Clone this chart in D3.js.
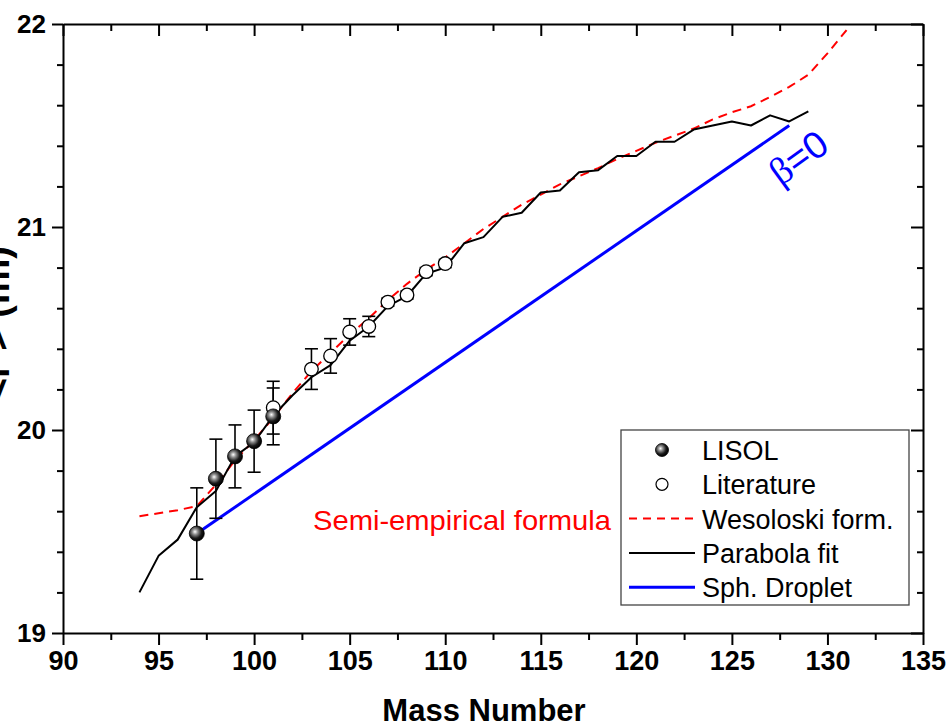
<!DOCTYPE html>
<html>
<head>
<meta charset="utf-8">
<script src="https://cdn.jsdelivr.net/npm/d3@7/dist/d3.min.js"></script>
<style>
  body { margin: 0; background: #fff; }
  svg { display: block; }
  text { font-family: "Liberation Sans", Arial, sans-serif; }
</style>
</head>
<body>
<svg id="chart" width="949" height="728"></svg>
<script>
// ---------- DATA ----------
const xTicks = [90, 95, 100, 105, 110, 115, 120, 125, 130, 135];
const yTicks = [19, 20, 21, 22];

const lisolA   = [97, 98, 99, 100, 101];
const lisolR   = [19.49, 19.76, 19.87, 19.945, 20.067];
const lisolErr = [0.225, 0.195, 0.155, 0.153, 0.14];

const litA   = [101, 103, 104, 105, 106, 107, 108, 109, 110];
const litR   = [20.11, 20.30, 20.365, 20.483, 20.51, 20.63, 20.665, 20.78, 20.82];
const litErr = [0.13, 0.10, 0.085, 0.065, 0.05, 0.02, 0.02, 0.02, 0.02];

const parabA = [94,95,96,97,98,99,100,101,102,103,104,105,106,107,108,109,110,111,112,113,114,115,116,117,118,119,120,121,122,123,124,125,126,127,128,129];
const parabR = [19.20,19.38,19.46,19.62,19.70,19.87,19.94,20.07,20.17,20.26,20.32,20.44,20.51,20.61,20.66,20.77,20.80,20.92,20.95,21.05,21.07,21.17,21.18,21.27,21.28,21.35,21.35,21.42,21.42,21.48,21.50,21.52,21.50,21.55,21.52,21.57];

const wesA = [94,95,96,97,98,99,100,101,102,103,104,105,106,107,108,109,110,111,112,113,114,115,116,117,118,119,120,121,122,123,124,125,126,127,128,129,130,131];
const wesR = [19.575,19.59,19.605,19.625,19.73,19.85,19.95,20.06,20.18,20.29,20.38,20.47,20.55,20.64,20.72,20.79,20.85,20.92,20.99,21.05,21.11,21.16,21.21,21.25,21.29,21.335,21.375,21.415,21.45,21.485,21.53,21.565,21.595,21.64,21.69,21.75,21.855,21.97];

const dropA = [97, 128];
const dropR = [19.49, 21.50];

const legendLabels = ["LISOL", "Literature", "Wesoloski form.", "Parabola fit", "Sph. Droplet"];

// ---------- SETUP ----------
const svg = d3.select("#chart");
const L = 63, R = 923, T = 24, B = 633;
const x = d3.scaleLinear().domain([90, 135]).range([L, R]);
const y = d3.scaleLinear().domain([19, 22]).range([B, T]);

const defs = svg.append("defs");
const grad = defs.append("radialGradient").attr("id", "sphere")
  .attr("cx", "40%").attr("cy", "40%").attr("r", "60%").attr("fx", "38%").attr("fy", "38%");
grad.append("stop").attr("offset", "0%").attr("stop-color", "#ffffff");
grad.append("stop").attr("offset", "30%").attr("stop-color", "#909090");
grad.append("stop").attr("offset", "70%").attr("stop-color", "#1a1a1a");
grad.append("stop").attr("offset", "100%").attr("stop-color", "#000000");

const clip = defs.append("clipPath").attr("id", "plotclip");
clip.append("rect").attr("x", L).attr("y", T).attr("width", R - L).attr("height", B - T);

// ---------- AXES ----------
const xMinor = d3.range(92.5, 135, 5);
const yMinor = d3.range(19, 22.001, 0.2).filter(v => Math.abs(v - Math.round(v)) > 1e-6);

function styleAxis(g) {
  g.select(".domain").attr("stroke", "#000").attr("stroke-width", 2);
  g.selectAll(".tick line").attr("stroke", "#000").attr("stroke-width", 2);
}
function minorStyle(g) {
  g.select(".domain").remove();
  g.selectAll(".tick line").attr("stroke", "#000").attr("stroke-width", 2);
}

// bottom
const gB = svg.append("g").attr("transform", `translate(0,${B})`)
  .call(d3.axisBottom(x).tickValues(xTicks).tickSize(12).tickSizeOuter(0).tickPadding(6).tickFormat(d3.format("d")));
styleAxis(gB);
gB.selectAll(".tick text").attr("font-size", 27).attr("font-weight", "bold").attr("fill", "#000")
  .attr("font-family", "'Liberation Sans', Arial, sans-serif");
svg.append("g").attr("transform", `translate(0,${B})`)
  .call(d3.axisBottom(x).tickValues(xMinor).tickSize(7).tickSizeOuter(0).tickFormat(""))
  .call(minorStyle);

// top
const gT = svg.append("g").attr("transform", `translate(0,${T})`)
  .call(d3.axisBottom(x).tickValues(xTicks).tickSize(12).tickSizeOuter(0).tickFormat(""));
styleAxis(gT);
svg.append("g").attr("transform", `translate(0,${T})`)
  .call(d3.axisBottom(x).tickValues(xMinor).tickSize(7).tickSizeOuter(0).tickFormat(""))
  .call(minorStyle);

// left
const gL = svg.append("g").attr("transform", `translate(${L},0)`)
  .call(d3.axisLeft(y).tickValues(yTicks).tickSize(11).tickSizeOuter(0).tickPadding(6).tickFormat(d3.format("d")));
styleAxis(gL);
gL.selectAll(".tick text").attr("font-size", 26).attr("font-weight", "bold").attr("fill", "#000")
  .attr("font-family", "'Liberation Sans', Arial, sans-serif");
svg.append("g").attr("transform", `translate(${L},0)`)
  .call(d3.axisLeft(y).tickValues(yMinor).tickSize(6).tickSizeOuter(0).tickFormat(""))
  .call(minorStyle);

// right
const gR = svg.append("g").attr("transform", `translate(${R},0)`)
  .call(d3.axisLeft(y).tickValues(yTicks).tickSize(12).tickSizeOuter(0).tickFormat(""));
styleAxis(gR);
svg.append("g").attr("transform", `translate(${R},0)`)
  .call(d3.axisLeft(y).tickValues(yMinor).tickSize(6).tickSizeOuter(0).tickFormat(""))
  .call(minorStyle);

// axis titles
svg.append("text").attr("x", 484).attr("y", 721).attr("text-anchor", "middle")
  .attr("font-size", 31).attr("font-weight", "bold").attr("fill", "#000").text("Mass Number");
svg.append("text").attr("transform", "translate(9,246) rotate(-90)").attr("text-anchor", "end")
  .attr("font-size", 38).attr("font-weight", "bold").attr("fill", "#000").text("<r²> (fm)");

// ---------- LINES ----------
const plot = svg.append("g").attr("clip-path", "url(#plotclip)");
const line = d3.line().x(d => x(d[0])).y(d => y(d[1]));

plot.append("path").datum(dropA.map((a, i) => [a, dropR[i]]))
  .attr("d", line).attr("fill", "none").attr("stroke", "#0000ff").attr("stroke-width", 3);

plot.append("path").datum(wesA.map((a, i) => [a, wesR[i]]))
  .attr("d", line).attr("fill", "none").attr("stroke", "#ff0000").attr("stroke-width", 2)
  .attr("stroke-dasharray", "9,6");

plot.append("path").datum(parabA.map((a, i) => [a, parabR[i]]))
  .attr("d", line).attr("fill", "none").attr("stroke", "#000").attr("stroke-width", 2)
  .attr("stroke-linejoin", "round");

// ---------- ERROR BARS ----------
function errorBars(A, Rv, E) {
  const g = plot.append("g").attr("stroke", "#000").attr("stroke-width", 1.6);
  A.forEach((a, i) => {
    const cx = x(a), y1 = y(Rv[i] + E[i]), y2 = y(Rv[i] - E[i]);
    g.append("line").attr("x1", cx).attr("x2", cx).attr("y1", y1).attr("y2", y2);
    g.append("line").attr("x1", cx - 6.5).attr("x2", cx + 6.5).attr("y1", y1).attr("y2", y1);
    g.append("line").attr("x1", cx - 6.5).attr("x2", cx + 6.5).attr("y1", y2).attr("y2", y2);
  });
}
errorBars(litA, litR, litErr);
errorBars(lisolA, lisolR, lisolErr);

// ---------- MARKERS ----------
plot.append("g").selectAll("circle").data(litA.map((a, i) => [a, litR[i]])).join("circle")
  .attr("cx", d => x(d[0])).attr("cy", d => y(d[1])).attr("r", 6.8)
  .attr("fill", "#fff").attr("stroke", "#000").attr("stroke-width", 1.3);

plot.append("g").selectAll("circle").data(lisolA.map((a, i) => [a, lisolR[i]])).join("circle")
  .attr("cx", d => x(d[0])).attr("cy", d => y(d[1])).attr("r", 7.5)
  .attr("fill", "url(#sphere)").attr("stroke", "#000").attr("stroke-width", 0.8);

// ---------- ANNOTATIONS ----------
svg.append("text").attr("x", 313).attr("y", 530).attr("font-size", 28.5).attr("fill", "#ff0000")
  .attr("font-family", "'Open Sans', 'Liberation Sans', sans-serif")
  .attr("textLength", 298).attr("lengthAdjust", "spacingAndGlyphs")
  .text("Semi-empirical formula");

const beta = svg.append("text").attr("transform", "translate(806,168) rotate(-36)").attr("text-anchor", "middle")
  .attr("font-size", 38).attr("fill", "#0000ff");
beta.append("tspan").attr("font-family", "'Liberation Serif', 'DejaVu Serif', serif").text("β");
beta.append("tspan").attr("font-family", "'Liberation Sans', Arial, sans-serif").text("=0");

// ---------- LEGEND ----------
const lg = svg.append("g");
lg.append("rect").attr("x", 621).attr("y", 430).attr("width", 288).attr("height", 175)
  .attr("fill", "#fff").attr("stroke", "#444").attr("stroke-width", 1.3);
const rowY = i => 450 + i * 34.3;
legendLabels.forEach((lab, i) => {
  lg.append("text").attr("x", 702).attr("y", rowY(i) + 10).attr("font-size", 27).attr("fill", "#000").text(lab);
});
lg.append("circle").attr("cx", 662).attr("cy", rowY(0)).attr("r", 6.5).attr("fill", "url(#sphere)")
  .attr("stroke", "#000").attr("stroke-width", 0.8);
lg.append("circle").attr("cx", 662).attr("cy", rowY(1)).attr("r", 6).attr("fill", "#fff")
  .attr("stroke", "#000").attr("stroke-width", 1.2);
lg.append("line").attr("x1", 629).attr("x2", 695).attr("y1", rowY(2)).attr("y2", rowY(2))
  .attr("stroke", "#ff0000").attr("stroke-width", 2).attr("stroke-dasharray", "8,6");
lg.append("line").attr("x1", 629).attr("x2", 695).attr("y1", rowY(3)).attr("y2", rowY(3))
  .attr("stroke", "#000").attr("stroke-width", 2);
lg.append("line").attr("x1", 629).attr("x2", 695).attr("y1", rowY(4)).attr("y2", rowY(4))
  .attr("stroke", "#0000ff").attr("stroke-width", 3);
</script>
</body>
</html>
